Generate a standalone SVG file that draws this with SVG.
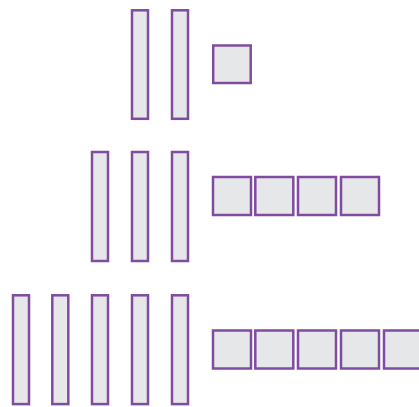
<svg xmlns="http://www.w3.org/2000/svg" width="419" height="407" viewBox="0 0 419 407">
<style>
.b{fill:#E6E7E8;stroke:#7F4CA0;stroke-width:2.5}
</style>
<rect width="419" height="407" fill="#FFFFFF"/>
<g id="row1">
<rect class="b" x="132" y="10.3" width="16" height="108.5"/>
<rect class="b" x="172" y="10.3" width="16" height="108.5"/>
<rect class="b" x="213.2" y="45.5" width="37.5" height="37.5"/>
</g>
<g id="row2">
<rect class="b" x="92" y="152" width="16" height="109"/>
<rect class="b" x="132" y="152" width="16" height="109"/>
<rect class="b" x="172" y="152" width="16" height="109"/>
<rect class="b" x="213" y="177" width="38" height="38"/>
<rect class="b" x="255.3" y="177" width="38" height="38"/>
<rect class="b" x="298" y="177" width="38" height="38"/>
<rect class="b" x="341" y="177" width="38" height="38"/>
</g>
<g id="row3">
<rect class="b" x="13" y="295.3" width="16" height="108.8"/>
<rect class="b" x="52.3" y="295.3" width="16" height="108.8"/>
<rect class="b" x="92" y="295.3" width="16" height="108.8"/>
<rect class="b" x="132" y="295.3" width="16" height="108.8"/>
<rect class="b" x="172" y="295.3" width="16" height="108.8"/>
<rect class="b" x="213" y="330.5" width="38" height="38"/>
<rect class="b" x="255.3" y="330.5" width="38" height="38"/>
<rect class="b" x="298" y="330.5" width="38" height="38"/>
<rect class="b" x="341" y="330.5" width="38" height="38"/>
<rect class="b" x="384" y="330.5" width="38" height="38"/>
</g>
<g id="connectors"/>
</svg>
